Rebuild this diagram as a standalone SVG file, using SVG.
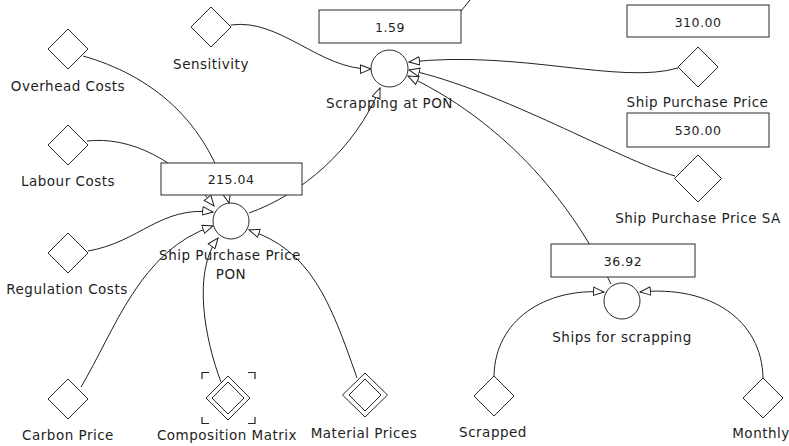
<svg xmlns="http://www.w3.org/2000/svg" width="789" height="446" viewBox="0 0 789 446">
<style>
.bg{fill:#ffffff}
.link{fill:none;stroke:#222;stroke-width:1}
.shape{fill:#fff;stroke:#2a2a2a;stroke-width:1}
.lbl{font-family:"DejaVu Sans",Verdana,sans-serif;font-size:13.5px;letter-spacing:0.5px;fill:#1e1e1e;text-anchor:middle}
.num{font-family:"DejaVu Sans",Verdana,sans-serif;font-size:12.5px;letter-spacing:0.5px;fill:#1e1e1e;text-anchor:middle}
.brk{fill:none;stroke:#222;stroke-width:1.2}
</style>
<defs>
<marker id="arr" viewBox="0 0 12 10" refX="11" refY="5" markerWidth="12" markerHeight="10" markerUnits="userSpaceOnUse" orient="auto">
<path d="M0.5,0.8 L11,5 L0.5,9.2 Z" fill="#fff" stroke="#222" stroke-width="1"/>
</marker>
</defs>
<rect class="bg" x="0" y="0" width="789" height="446"/>
<g id="connectors">
<path class="link" marker-end="url(#arr)" d="M83,56 C150,75 208,120 229,203"/>
<path class="link" marker-end="url(#arr)" d="M87,141 C130,136 178,160 214,206"/>
<path class="link" marker-end="url(#arr)" d="M88,251 C140,242 160,206 213,212"/>
<path class="link" marker-end="url(#arr)" d="M81,387 C115,330 140,250 213,226"/>
<path class="link" marker-end="url(#arr)" d="M221,382 C205,340 192,272 218,238"/>
<path class="link" marker-end="url(#arr)" d="M357,378 C330,300 310,250 249,230"/>
<path class="link" marker-end="url(#arr)" d="M249,213 C300,195 355,150 380,88"/>
<path class="link" marker-end="url(#arr)" d="M231,25 C280,18 320,70 371,69"/>
<path class="link" marker-end="url(#arr)" d="M678,68 C620,85 520,50 409,62"/>
<path class="link" marker-end="url(#arr)" d="M675,176 C620,160 500,90 409,70"/>
<path class="link" marker-end="url(#arr)" d="M611,284 C580,220 520,130 408,76"/>
<path class="link" marker-end="url(#arr)" d="M494,376 C495,320 545,288 604,292"/>
<path class="link" marker-end="url(#arr)" d="M763,378 C762,320 710,285 640,292"/>
<path class="link" d="M461,11 L470,0"/>
</g>
<g id="overhead-costs">
<path class="shape" d="M68,29 L88,49 L68,69 L48,49 Z"/>
<text class="lbl" x="68" y="91">Overhead Costs</text>
</g>
<g id="sensitivity">
<path class="shape" d="M211,7 L231,27 L211,47 L191,27 Z"/>
<text class="lbl" x="211" y="69">Sensitivity</text>
</g>
<g id="labour-costs">
<path class="shape" d="M68,125 L88,145 L68,165 L48,145 Z"/>
<text class="lbl" x="68" y="186">Labour Costs</text>
</g>
<g id="regulation-costs">
<path class="shape" d="M68,233 L88,253 L68,273 L48,253 Z"/>
<text class="lbl" x="67" y="294">Regulation Costs</text>
</g>
<g id="carbon-price">
<path class="shape" d="M68,379 L88,399 L68,419 L48,399 Z"/>
<text class="lbl" x="68" y="440">Carbon Price</text>
</g>
<g id="composition-matrix">
<path class="brk" d="M202,379 V372.5 H209 M248,372.5 H255 V379 M202,417 V423.5 H209 M248,423.5 H255 V417"/>
<path class="shape" d="M228,376 L250,398 L228,420 L206,398 Z"/>
<path class="shape" d="M228,382 L244,398 L228,414 L212,398 Z"/>
<text class="lbl" x="227" y="440">Composition Matrix</text>
</g>
<g id="material-prices">
<path class="shape" d="M365,373 L387.5,395 L365,417 L342.5,395 Z"/>
<path class="shape" d="M365,379 L381,395 L365,411 L349,395 Z"/>
<text class="lbl" x="364" y="438">Material Prices</text>
</g>
<g id="ship-purchase-price-pon">
<rect class="shape" x="161" y="163" width="141" height="32"/>
<text class="num" x="231" y="183.5">215.04</text>
<circle class="shape" cx="231" cy="221" r="18"/>
<text class="lbl" x="230" y="260">Ship Purchase Price</text>
<text class="lbl" x="231" y="279">PON</text>
</g>
<g id="scrapping-at-pon">
<rect class="shape" x="319" y="10" width="142" height="33"/>
<text class="num" x="390" y="32">1.59</text>
<circle class="shape" cx="389.5" cy="68.5" r="18.5"/>
<text class="lbl" x="389.5" y="108">Scrapping at PON</text>
</g>
<g id="ship-purchase-price">
<rect class="shape" x="627" y="5" width="142" height="32"/>
<text class="num" x="698" y="27">310.00</text>
<path class="shape" d="M698,47 L718,67 L698,87 L678,67 Z"/>
<text class="lbl" x="697.5" y="107">Ship Purchase Price</text>
</g>
<g id="ship-purchase-price-sa">
<rect class="shape" x="627" y="113" width="142" height="34"/>
<text class="num" x="698" y="135">530.00</text>
<path class="shape" d="M698,155 L721.5,178.5 L698,202 L674.5,178.5 Z"/>
<text class="lbl" x="698" y="223">Ship Purchase Price SA</text>
</g>
<g id="ships-for-scrapping">
<rect class="shape" x="551" y="244" width="144" height="33"/>
<text class="num" x="623" y="266">36.92</text>
<circle class="shape" cx="622" cy="301" r="18"/>
<text class="lbl" x="622" y="342">Ships for scrapping</text>
</g>
<g id="scrapped">
<path class="shape" d="M494,376 L514,396 L494,416 L474,396 Z"/>
<text class="lbl" x="493" y="437">Scrapped</text>
</g>
<g id="monthly">
<path class="shape" d="M763,378 L783,398 L763,418 L743,398 Z"/>
<text class="lbl" x="761" y="438">Monthly</text>
</g>
</svg>
